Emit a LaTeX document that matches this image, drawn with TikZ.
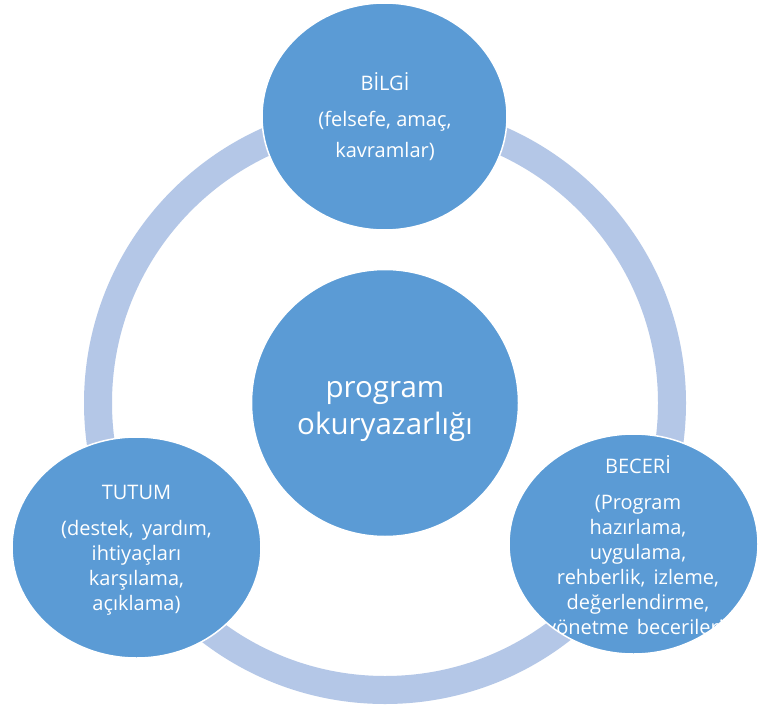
\documentclass[tikz,border=0pt]{standalone}
\usepackage{fontspec}
\setmainfont{Open Sans}
\usetikzlibrary{shapes.geometric}
\definecolor{bubble}{HTML}{5B9BD5}
\definecolor{ringblue}{HTML}{B4C7E7}
\newcommand{\wsp}{\ \hspace{3pt}}
\tikzset{
  bubble/.style={ellipse, fill=bubble, draw=white, line width=1.5pt, inner sep=0pt},
  label/.style={text=white, align=center, inner sep=0pt},
  small/.style={font=\fontsize{20}{25}\selectfont},
  big/.style={font=\fontsize{29.5}{37}\selectfont}
}
\begin{document}
\begin{tikzpicture}[x=1pt, y=-1pt]
  \useasboundingbox (0,0) rectangle (760,706);
  \fill[white] (0,0) rectangle (760,706);

  % cycle ring behind the bubbles
  \coordinate (hub) at (385,403);
  \draw[ringblue, line width=28pt] (hub) circle[radius=287];

  % central concept
  \node[bubble, minimum width=267pt, minimum height=267pt] (core) at (hub) {};
  \node[label, big] (coretext) at (385,412) {program\\okuryazarlığı};

  % knowledge
  \node[bubble, minimum width=245pt, minimum height=227pt,
        path picture={\node[label, small] at (0.5,0.5) {BİLGİ\\[11pt](felsefe, amaç,\\[6pt]kavramlar)};}]
        (bilgi) at (384.5,116.5) {};

  % attitude
  \node[bubble, minimum width=249pt, minimum height=221pt,
        path picture={\node[label, small] at (0,2.5) {TUTUM\\[11pt](destek,\wsp yardım,\\ihtiyaçları\\karşılama,\\açıklama)};}]
        (tutum) at (136.5,547.5) {};

  % skill
  \node[bubble, minimum width=249pt, minimum height=220pt,
        path picture={\node[label, small] at (4.5,3) {BECERİ\\[11pt](Program\\hazırlama,\\uygulama,\\rehberlik,\wsp izleme,\\değerlendirme,\\yönetme\wsp becerileri)};}]
        (beceri) at (633.5,544) {};
\end{tikzpicture}
\end{document}
